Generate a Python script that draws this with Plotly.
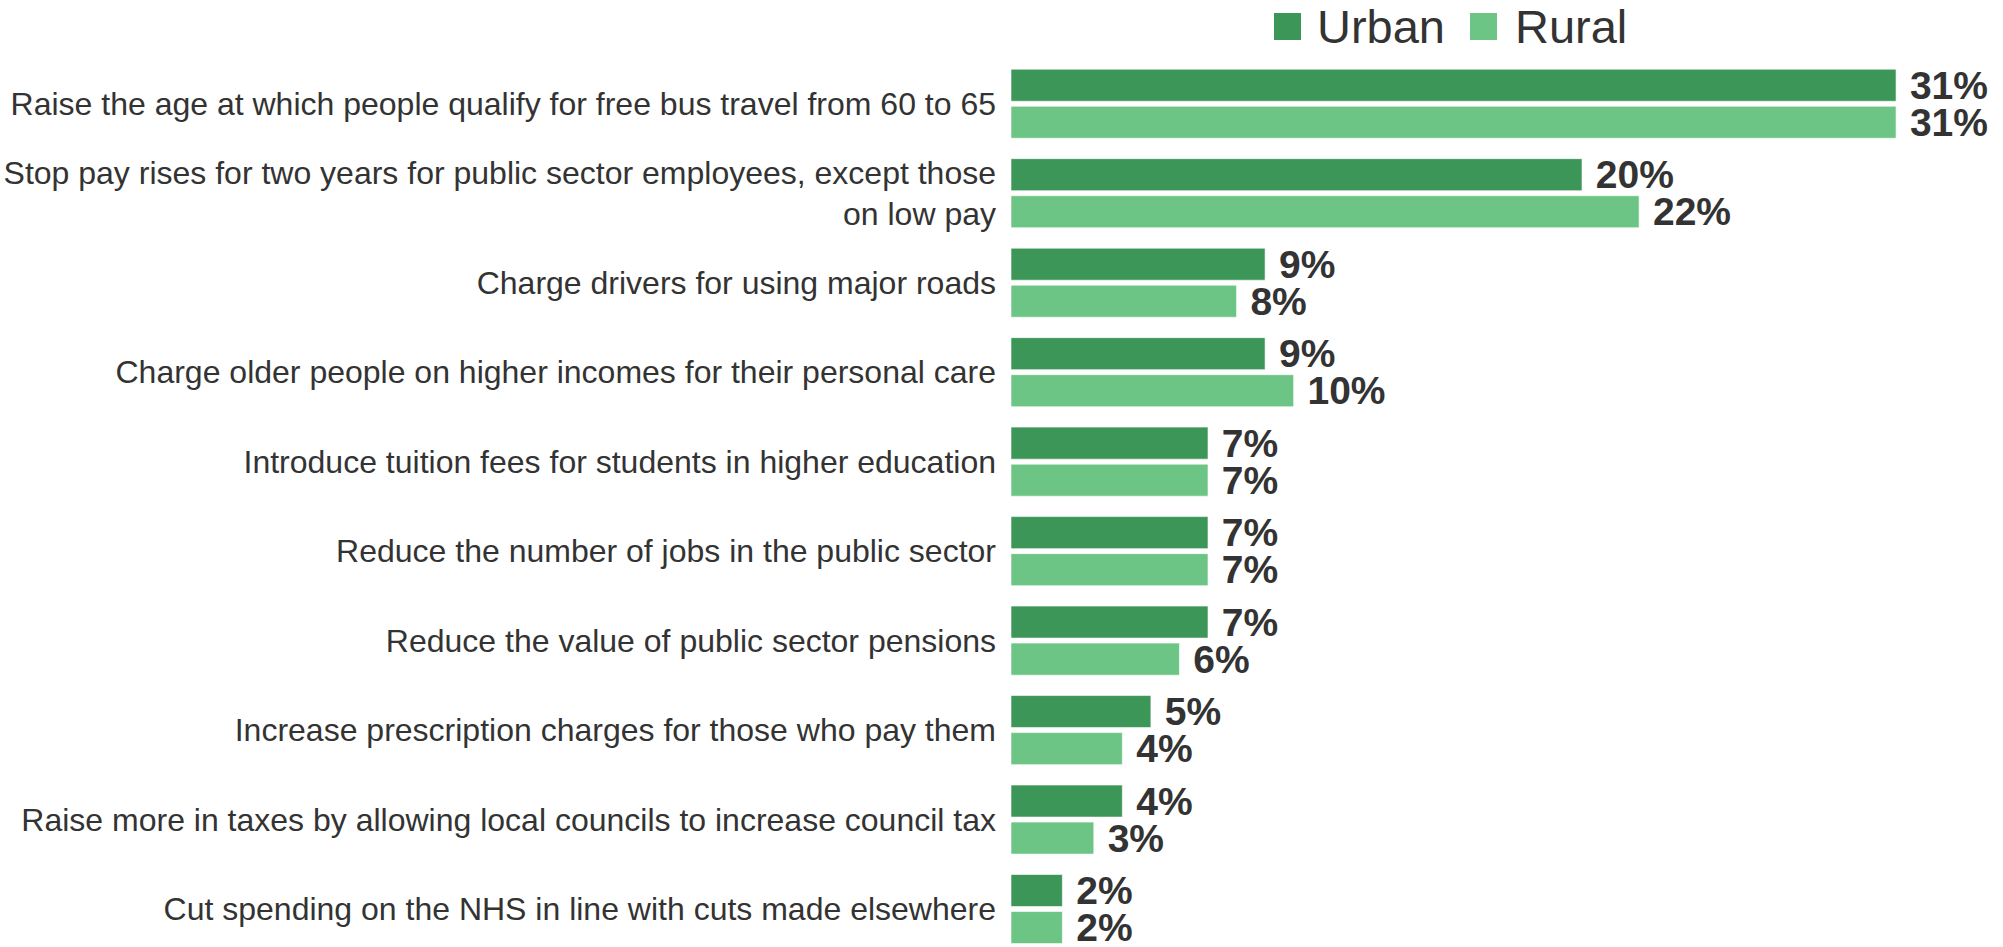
import plotly.graph_objects as go

categories = [
    "Raise the age at which people qualify for free bus travel from 60 to 65",
    "Stop pay rises for two years for public sector employees, except those<br>on low pay",
    "Charge drivers for using major roads",
    "Charge older people on higher incomes for their personal care",
    "Introduce tuition fees for students in higher education",
    "Reduce the number of jobs in the public sector",
    "Reduce the value of public sector pensions",
    "Increase prescription charges for those who pay them",
    "Raise more in taxes by allowing local councils to increase council tax",
    "Cut spending on the NHS in line with cuts made elsewhere",
]
urban = [31.0, 20.0, 8.9, 8.9, 6.9, 6.9, 6.9, 4.9, 3.9, 1.8]
rural = [31.0, 22.0, 7.9, 9.9, 6.9, 6.9, 5.9, 3.9, 2.9, 1.8]
series_names = ["Urban", "Rural"]
colors = ["#3c9658", "#6cc585"]

W, H = 2003, 947
ML, MT = 1011, 59
plot_w = W - ML
plot_h = H - MT
px_per_pct = 28.55
row_px = 89.48

fig = go.Figure()
for name, vals, col in zip(series_names, [urban, rural], colors):
    fig.add_trace(go.Bar(
        y=categories, x=vals, name=name, orientation="h",
        marker=dict(color=col, line=dict(color="rgba(255,255,255,0.6)", width=1)),
        text=["\u00a0" + f"{round(v)}%" for v in vals],
        textposition="outside",
        constraintext="none",
        cliponaxis=False,
        textfont=dict(family="Liberation Sans, Arial", size=39,
                      color="#333333", weight="bold"),
        showlegend=False,
        hoverinfo="skip",
    ))

# legend drawn as squares + text in paper coordinates
def px_x(p):
    return (p - ML) / plot_w

def px_y(p):
    return 1 + (MT - p) / plot_h

legend_items = [(1274, 1315), (1470, 1513)]
for (sq_x, tx_x), name, col in zip(legend_items, series_names, colors):
    fig.add_shape(type="rect", xref="paper", yref="paper",
                  x0=px_x(sq_x), x1=px_x(sq_x + 27), y0=px_y(40), y1=px_y(13),
                  fillcolor=col, line=dict(width=0))
    fig.add_annotation(xref="paper", yref="paper", x=px_x(tx_x), y=px_y(27),
                       xanchor="left", yanchor="middle", text=name, showarrow=False,
                       font=dict(family="Liberation Sans, Arial", size=47, color="#333333"))

fig.update_layout(
    width=W, height=H,
    margin=dict(l=ML, r=0, t=MT, b=0, pad=0),
    barmode="group", bargap=0.172, bargroupgap=0.135,
    plot_bgcolor="white", paper_bgcolor="white",
    font=dict(family="Liberation Sans, Arial", color="#333333"),
)
fig.update_xaxes(range=[0, plot_w / px_per_pct], showticklabels=False, showgrid=False,
                 zeroline=False, showline=False, fixedrange=True)
fig.update_yaxes(categoryorder="array", categoryarray=categories,
                 range=[-0.5 + plot_h / row_px, -0.5],
                 showgrid=False, zeroline=False, showline=False,
                 ticks="", ticklabelstandoff=14,
                 tickfont=dict(family="Liberation Sans, Arial", size=32, color="#333333"))

fig.write_html("out.html", config={"displayModeBar": False},
               post_script="document.body.style.margin='0';document.body.style.overflow='hidden';")
